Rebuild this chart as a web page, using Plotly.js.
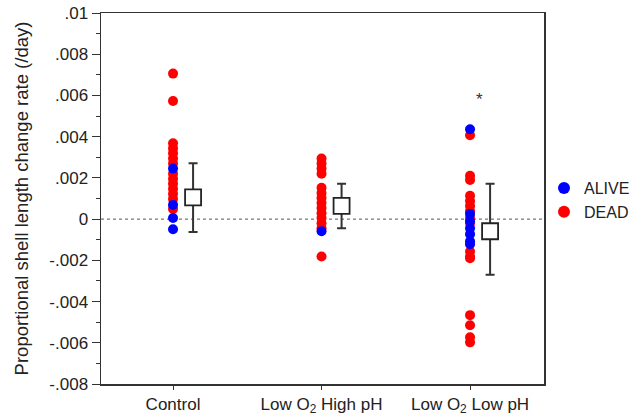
<!DOCTYPE html>
<html><head><meta charset="utf-8">
<script src="https://cdn.plot.ly/plotly-3.0.1.min.js"></script>
<style>body{margin:0;background:#fff}#c{width:636px;height:418px}</style>
</head><body><div id="c"></div>
<script>
const categories = ["Control", "Low O<sub>2</sub> High pH", "Low O<sub>2</sub> Low pH"];
const deadControl = [0.00706, 0.00573, 0.00368, 0.00343, 0.00319, 0.00294, 0.0027, 0.0022, 0.00196, 0.00172, 0.00147, 0.00123, 0.00098, 0.00049];
const aliveControl = [0.00245, 0.00069, 0.00005, -0.00049];
const deadHighPH = [0.00294, 0.0027, 0.00245, 0.0022, 0.00152, 0.00127, 0.00103, 0.00078, 0.00054, 0.00029, 0.00005, -0.0002, -0.00044, -0.00181];
const aliveHighPH = [-0.00059];
const deadLowPH = [0.00407, 0.0021, 0.0019, 0.00113, 0.00088, 0.00064, 0.00039, 0.00005, -0.0002, -0.00157, -0.00181, -0.0019, -0.00466, -0.00515, -0.00573, -0.00598];
const aliveLowPH = [0.00436, 0.00025, -0.0001, -0.00044, -0.00073, -0.00108, -0.00122];
const means = [0.00105, 0.00064, -0.00059];
const errUpper = [0.00271, 0.00172, 0.00172];
const errLower = [-0.00062, -0.00044, -0.0027];
const starValue = 0.0058;
const yTickVals = [0.01, 0.008, 0.006, 0.004, 0.002, 0, -0.002, -0.004, -0.006, -0.008];
const yTickText = [".01", ".008", ".006", ".004", ".002", "0", "-.002", "-.004", "-.006", "-.008"];

const groupsDead = [deadControl, deadHighPH, deadLowPH];
const groupsAlive = [aliveControl, aliveHighPH, aliveLowPH];
function xs(groups){ let a=[]; groups.forEach((g,i)=>g.forEach(()=>a.push(i))); return a; }
function ys(groups){ return [].concat(...groups); }
const off = 0.135;
const ink = '#222';
const traces = [
  {x: xs(groupsDead), y: ys(groupsDead), mode:'markers', type:'scatter', name:'DEAD',
   marker:{color:'#ff0000', size:10}},
  {x: xs(groupsAlive), y: ys(groupsAlive), mode:'markers', type:'scatter', name:'ALIVE',
   marker:{color:'#0000ff', size:10}},
  {x: [0+off,1+off,2+off], y: means, mode:'markers', type:'scatter', showlegend:false,
   marker:{symbol:'square', size:16, color:'#fff', line:{color:ink, width:1.8}},
   error_y:{type:'data', symmetric:false,
     array: means.map((m,i)=>errUpper[i]-m), arrayminus: means.map((m,i)=>m-errLower[i]),
     color:'#333', thickness:2, width:4.5}}
];
const layout = {
  width:636, height:418, margin:{l:101, r:92, t:13, b:34, autoexpand:false},
  paper_bgcolor:'#fff', plot_bgcolor:'#fff',
  font:{family:'Liberation Sans, Arial, sans-serif', color:ink},
  showlegend:true,
  legend:{x:1.0, y:0.574, xanchor:'left', yanchor:'top', traceorder:'reversed',
    font:{size:16, color:ink}, itemsizing:'constant', bgcolor:'rgba(0,0,0,0)', tracegroupgap:0},
  xaxis:{range:[-0.485, 2.498], tickvals:[0,1,2], ticktext:categories, showgrid:false, zeroline:false,
    showline:true, linecolor:'#333', linewidth:1.5, mirror:true, ticks:'outside', ticklen:4, tickcolor:'#333',
    tickfont:{size:17, color:ink}, automargin:false},
  yaxis:{range:[-0.008, 0.01], tickvals:yTickVals, ticktext:yTickText, showgrid:false, zeroline:false,
    showline:true, linecolor:'#333', linewidth:1.5, mirror:true, ticks:'outside', ticklen:8, tickcolor:'#333',
    tickfont:{size:17, color:ink}, automargin:false,
    minor:{dtick:0.001, ticks:'outside', ticklen:4, tickcolor:'#333', showgrid:false},
    title:{text:'Proportional shell length change rate (/day)', font:{size:18.5, color:ink}, standoff:16}},
  shapes:[{type:'line', xref:'paper', x0:0, x1:1, yref:'y', y0:0, y1:0, line:{color:'#555', width:1, dash:'dot'}, layer:'below'}],
  annotations:[{x:2.067, y:starValue, xref:'x', yref:'y', text:'*', showarrow:false, font:{size:17, color:'#333'}}]
};
Plotly.newPlot('c', traces, layout, {staticPlot:true});
</script></body></html>
